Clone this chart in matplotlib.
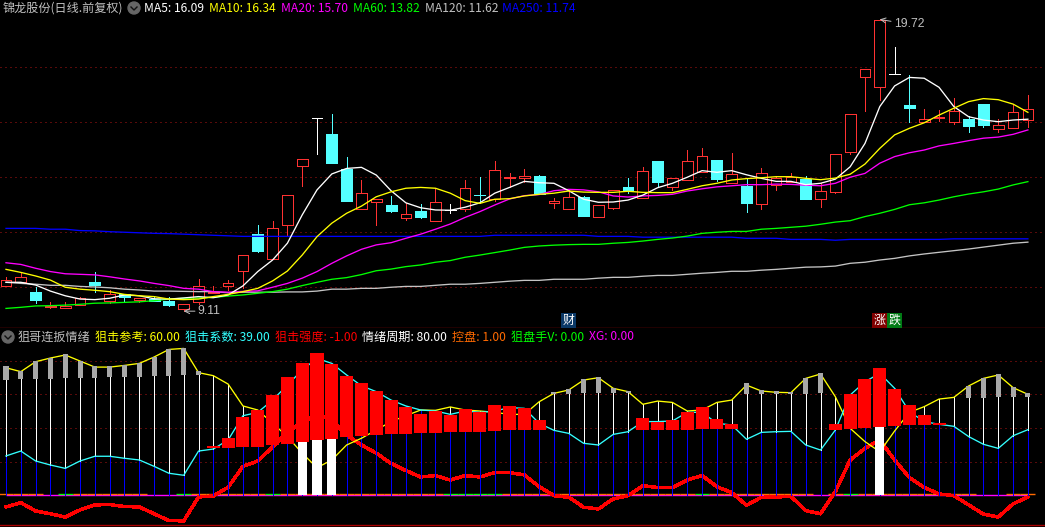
import numpy as np
import matplotlib.pyplot as plt
from matplotlib.lines import Line2D
from matplotlib.patches import Ellipse

plt.rcParams["font.family"] = ["Noto Sans CJK SC", "DejaVu Sans"]

# daily candles
opens = [10.04, 10.17, 9.81, 9.26, 9.24, 9.32, 10.17, 9.49, 9.72, 9.53, 9.54, 9.48, 9.20, 9.45, 9.78, 10.01, 10.58, 11.91,
         11.00, 12.23, 14.38, 16.12, 15.55, 14.28, 12.84, 13.09, 12.97, 12.51, 12.75, 12.40, 12.80, 12.84, 13.33, 13.20,
         13.95, 13.97, 14.03, 13.06, 12.84, 13.26, 12.55, 12.87, 13.63, 13.21, 14.57, 13.61, 13.87, 14.18, 14.61, 13.78,
         13.66, 13.00, 13.69, 13.82, 13.92, 13.20, 13.45, 14.91, 17.64, 17.27, 17.72, 16.61, 15.99, 16.13, 15.99, 16.10,
         16.64, 15.75, 15.78, 16.07]
closes = [10.25, 10.34, 9.52, 9.30, 9.30, 9.58, 10.06, 9.72, 9.64, 9.58, 9.47, 9.35, 9.36, 10.01, 9.81, 10.12, 11.14, 11.30,
          12.12, 13.32, 14.63, 16.12, 14.51, 13.12, 13.40, 13.18, 12.75, 12.63, 12.53, 13.07, 12.80, 13.58, 13.32, 14.23,
          13.99, 14.01, 13.37, 13.10, 13.25, 12.58, 12.96, 13.51, 13.52, 14.20, 13.82, 13.94, 14.56, 14.74, 13.92, 14.09,
          13.05, 14.12, 13.94, 14.00, 13.19, 13.47, 14.81, 16.27, 17.91, 19.69, 17.72, 16.51, 16.09, 16.16, 16.38, 15.84,
          15.88, 15.88, 16.34, 16.45]
highs = [10.36, 10.51, 9.99, 9.44, 9.44, 9.64, 10.53, 9.88, 9.72, 9.58, 9.66, 9.61, 9.36, 10.28, 10.01, 10.23, 11.14, 12.23,
         12.39, 13.32, 14.63, 16.12, 16.28, 14.72, 13.88, 13.18, 13.30, 13.03, 13.00, 13.59, 13.00, 13.88, 13.99, 14.57,
         14.12, 14.27, 14.06, 13.21, 13.54, 13.28, 12.96, 13.51, 13.95, 14.35, 14.57, 13.94, 14.97, 15.04, 14.61, 14.85,
         13.92, 14.32, 14.03, 14.12, 14.03, 13.76, 14.81, 16.27, 17.91, 19.72, 18.72, 17.70, 16.46, 16.43, 16.85, 16.21,
         16.64, 16.10, 16.61, 16.97]
lows = [10.04, 10.17, 9.41, 9.23, 9.24, 9.32, 9.81, 9.41, 9.43, 9.43, 9.47, 9.30, 9.11, 9.36, 9.77, 9.88, 9.96, 11.25,
        11.00, 11.84, 13.66, 14.84, 14.51, 13.12, 12.84, 12.24, 12.72, 12.43, 12.50, 12.40, 12.69, 12.75, 13.03, 13.11,
        13.64, 13.82, 13.37, 12.87, 12.84, 12.58, 12.55, 12.83, 13.42, 13.21, 13.66, 13.52, 13.87, 14.18, 13.85, 13.78,
        12.73, 12.83, 13.52, 13.82, 13.19, 12.91, 13.42, 14.83, 16.39, 16.79, 17.72, 15.99, 15.99, 16.03, 15.93, 15.63,
        15.81, 15.63, 15.78, 15.81]

# moving averages
ma5 = [10.16, 10.16, 10.06, 9.84, 9.67, 9.55, 9.53, 9.58, 9.70, 9.67, 9.56, 9.55, 9.59, 9.64, 9.60, 9.70, 10.03, 10.55,
       10.97, 11.58, 12.61, 13.52, 14.10, 14.30, 14.34, 14.06, 13.49, 13.05, 12.87, 12.79, 12.78, 12.89, 13.05, 13.40,
       13.61, 13.83, 13.78, 13.76, 13.49, 13.18, 13.07, 13.08, 13.15, 13.33, 13.60, 13.76, 13.98, 14.22, 14.16, 14.22,
       14.07, 13.94, 13.83, 13.83, 13.71, 13.76, 13.91, 14.36, 15.21, 16.55, 17.30, 17.61, 17.58, 17.25, 16.55, 16.18,
       16.06, 16.00, 16.06, 16.09]
ma10 = [10.63, 10.52, 10.39, 10.24, 9.98, 9.91, 9.87, 9.82, 9.72, 9.67, 9.64, 9.55, 9.53, 9.55, 9.64, 9.72, 9.82, 9.94,
        10.21, 10.57, 11.15, 11.82, 12.31, 12.67, 12.93, 13.27, 13.45, 13.58, 13.61, 13.58, 13.40, 13.13, 13.03, 13.18,
        13.20, 13.30, 13.36, 13.40, 13.48, 13.44, 13.43, 13.43, 13.47, 13.43, 13.42, 13.42, 13.54, 13.67, 13.76, 13.88,
        13.93, 13.96, 14.00, 14.00, 13.94, 13.89, 13.95, 14.09, 14.46, 15.03, 15.52, 15.76, 15.96, 16.24, 16.49, 16.73,
        16.84, 16.80, 16.64, 16.34]
ma20 = [10.87, 10.81, 10.67, 10.55, 10.47, 10.45, 10.43, 10.36, 10.28, 10.21, 10.12, 10.04, 9.94, 9.91, 9.82, 9.80, 9.83, 9.85,
        9.98, 10.12, 10.31, 10.55, 10.85, 11.12, 11.36, 11.52, 11.60, 11.76, 11.91, 12.09, 12.28, 12.52, 12.73, 12.97,
        13.19, 13.31, 13.35, 13.49, 13.54, 13.52, 13.45, 13.30, 13.26, 13.30, 13.32, 13.36, 13.48, 13.56, 13.63, 13.67,
        13.71, 13.71, 13.73, 13.72, 13.69, 13.67, 13.76, 13.98, 14.12, 14.49, 14.73, 14.87, 14.97, 15.12, 15.21, 15.31,
        15.40, 15.44, 15.54, 15.70]
ma60 = [9.21, 9.25, 9.30, 9.31, 9.33, 9.36, 9.40, 9.41, 9.43, 9.45, 9.49, 9.55, 9.58, 9.59, 9.61, 9.66, 9.70, 9.76,
        9.82, 9.91, 10.04, 10.16, 10.27, 10.33, 10.44, 10.58, 10.64, 10.73, 10.79, 10.89, 10.95, 11.07, 11.15, 11.24,
        11.33, 11.43, 11.48, 11.51, 11.53, 11.54, 11.54, 11.58, 11.61, 11.66, 11.72, 11.77, 11.84, 11.94, 11.98, 12.01,
        12.01, 12.09, 12.12, 12.16, 12.20, 12.27, 12.35, 12.40, 12.55, 12.67, 12.81, 12.98, 13.05, 13.15, 13.27, 13.37,
        13.45, 13.55, 13.70, 13.82]
ma120 = [10.16, 10.12, 10.09, 10.05, 10.05, 10.01, 9.99, 9.96, 9.91, 9.88, 9.84, 9.84, 9.83, 9.82, 9.82, 9.78, 9.80, 9.80,
         9.80, 9.81, 9.81, 9.84, 9.91, 9.91, 9.94, 9.94, 9.98, 10.01, 10.01, 10.05, 10.09, 10.09, 10.12, 10.16, 10.20,
         10.23, 10.23, 10.27, 10.27, 10.27, 10.31, 10.34, 10.34, 10.38, 10.41, 10.41, 10.45, 10.49, 10.52, 10.56, 10.56,
         10.60, 10.63, 10.67, 10.71, 10.72, 10.75, 10.85, 10.89, 10.97, 11.03, 11.12, 11.19, 11.25, 11.31, 11.37, 11.44,
         11.51, 11.58, 11.62]
ma250 = [12.12, 12.12, 12.12, 12.09, 12.09, 12.04, 12.03, 12.00, 11.98, 11.96, 11.94, 11.93, 11.91, 11.89, 11.87, 11.85,
         11.83, 11.83, 11.83, 11.83, 11.83, 11.83, 11.83, 11.83, 11.83, 11.83, 11.83, 11.83, 11.83, 11.83, 11.83, 11.83,
         11.83, 11.87, 11.87, 11.87, 11.87, 11.87, 11.87, 11.87, 11.83, 11.83, 11.83, 11.80, 11.80, 11.80, 11.80, 11.80,
         11.80, 11.80, 11.76, 11.76, 11.76, 11.72, 11.72, 11.72, 11.69, 11.72, 11.72, 11.72, 11.72, 11.72, 11.72, 11.72,
         11.74, 11.74, 11.74, 11.74, 11.74, 11.74]

# indicator panel
ref_line = [75.8, 73.5, 79.4, 81.6, 83.4, 79.8, 76.2, 76.2, 77.2, 78.4, 82.2, 86.7, 87.3, 72.9, 71.1, 66.1, 53.1, 50.7,
            42.8, 34.9, 25.0, 16.4, 21.0, 29.9, 33.9, 38.8, 43.8, 47.3, 50.7, 50.5, 52.5, 50.7, 50.1, 49.3, 48.1, 48.1,
            55.6, 60.6, 62.6, 68.5, 69.9, 63.6, 61.6, 54.1, 56.0, 55.2, 50.1, 50.7, 55.2, 56.6, 65.5, 62.0, 61.2, 61.0,
            69.5, 72.1, 58.6, 39.8, 31.9, 25.9, 38.2, 49.3, 52.7, 57.2, 58.2, 65.0, 69.5, 71.5, 64.0, 60.0]
coef_line = [23.4, 26.3, 20.4, 18.0, 16.0, 20.4, 23.2, 23.2, 22.0, 21.0, 17.2, 13.1, 11.9, 26.3, 27.5, 32.9, 47.3, 49.3,
             56.6, 65.5, 74.5, 81.4, 78.4, 71.5, 65.1, 61.6, 56.6, 53.1, 50.7, 50.1, 48.1, 50.1, 49.3, 50.1, 52.1, 51.7,
             42.8, 38.6, 36.8, 30.9, 29.9, 36.2, 37.8, 43.8, 43.8, 44.2, 49.3, 49.3, 42.8, 41.8, 33.3, 37.4, 37.8, 38.0,
             29.9, 26.9, 38.8, 59.6, 67.5, 72.5, 63.6, 49.7, 43.8, 42.2, 41.0, 34.9, 30.3, 27.9, 35.4, 39.0]
strength = [-6.9, -4.4, -9.3, -11.0, -12.9, -8.7, -5.7, -5.5, -6.7, -6.9, -11.0, -15.0, -15.2, -1.0, -0.4, 4.8, 17.2, 20.4,
            28.7, 37.8, 43.2, 48.3, 44.8, 35.8, 29.9, 25.0, 19.0, 14.7, 10.9, 11.7, 9.1, 11.7, 10.9, 13.5, 13.5, 12.1,
            5.1, -0.2, -1.2, -7.1, -8.1, -2.2, -0.2, 5.7, 4.6, 4.6, 9.1, 11.7, 5.1, 1.6, -5.9, -1.2, -1.0, -0.6,
            -9.1, -11.0, 2.2, 21.0, 27.9, 32.9, 21.0, 10.5, 4.6, 0.8, -0.2, -5.7, -11.2, -12.9, -5.1, -1.0]

gray_idx = [0, 1, 2, 3, 4, 5, 6, 7, 8, 9, 10, 11, 12, 13, 37, 38, 39, 40, 41, 42, 50, 51, 52, 53, 54, 55, 65, 66, 67, 68, 69]
gray_top = [76.8, 73.9, 79.8, 81.6, 84.0, 79.8, 76.8, 76.8, 77.4, 78.6, 82.2, 86.9, 87.5, 73.9, 61.4, 63.2, 69.1, 70.3, 63.8,
            62.0, 66.7, 62.6, 62.0, 61.4, 69.7, 72.7, 65.0, 69.7, 72.1, 64.4, 60.8]
gray_bot = [68.5, 69.1, 69.1, 69.1, 69.5, 69.9, 69.7, 70.3, 70.3, 70.3, 70.9, 70.9, 71.5, 71.5, 60.2, 60.2, 60.8, 60.8, 60.8,
            60.8, 60.2, 60.2, 60.2, 60.2, 60.2, 60.8, 57.8, 57.8, 58.4, 58.4, 58.4]

red_idx = [14, 15, 16, 17, 18, 19, 20, 21, 22, 23, 24, 25, 26, 27, 28, 29, 30, 31, 32, 33, 34, 35, 36,
           43, 44, 45, 46, 47, 48, 49, 56, 57, 58, 59, 60, 61, 62, 63]
red_top = [29.3, 34.1, 46.5, 50.7, 59.6, 70.3, 78.6, 84.6, 78.0, 70.9, 66.7, 62.0, 56.6, 52.5, 48.3, 50.1, 47.7, 51.3, 49.5,
           53.7, 53.1, 51.9, 44.8, 45.9, 43.6, 44.8, 49.5, 52.5, 45.3, 42.4, 42.4, 60.2, 69.1, 75.6, 63.2, 53.7, 47.7, 43.0]
red_bot = [28.1, 28.1, 28.7, 28.7, 29.9, 30.5, 31.7, 32.9, 33.5, 34.7, 35.2, 35.8, 36.4, 36.4, 37.0, 37.0, 37.6, 37.6, 37.6,
           38.2, 38.8, 38.8, 38.8, 38.8, 38.8, 38.8, 38.8, 39.4, 39.4, 39.4, 38.8, 39.4, 40.0, 40.6, 41.2, 41.8, 41.8, 41.8]

white_idx = [20, 21, 22, 59]
white_top = [31.7, 32.9, 33.5, 40.6]

orange_idx = [0, 1, 2, 5, 6, 7, 8, 9, 13, 14, 15, 16, 17, 19, 20, 21, 22, 23, 24, 25, 26, 27, 28, 29, 34, 35, 36, 37, 38, 39,
              40, 41, 42, 43, 44, 45, 46, 48, 49, 50, 51, 52, 53, 54, 56, 58, 59, 60, 61, 62, 63, 64, 65, 68, 69]
green_idx = [4, 12, 18, 30, 31, 32, 33, 47, 57]

event_idx = [38, 59, 60]
event_txt = ["财", "涨", "跌"]
event_bg = ["#0a3866", "#800000", "#007a14"]

W, H = 1045, 527
RED = "#ff3232"
CYAN = "#54ffff"
GRID = "#b01414"
EDGE = "#a80000"
THIN = 0.72
MA_LW = 0.95

x = np.arange(len(closes))
xlim = (-6 / 14.81, (W - 6) / 14.81)

fig = plt.figure(figsize=(W / 100, H / 100), dpi=100, facecolor="black")
ax = fig.add_axes([0, (H - 328) / H, 1, 328 / H], facecolor="black")
ax2 = fig.add_axes([0, (H - 524.5) / H, 1, 196.5 / H], facecolor="black")

for a in (ax, ax2):
    a.set_xlim(*xlim)
    a.set_xticks([])
    a.tick_params(left=False, labelleft=False)
    a.grid(True, axis="y", color=GRID, lw=THIN, ls=(0, (1, 4)))
    a.set_axisbelow(True)
    for s in ("left", "right", "top"):
        a.spines[s].set_visible(False)
    a.spines["bottom"].set_color(EDGE)
    a.spines["bottom"].set_linewidth(1.0)

# price panel
ax.set_ylim(8.498, 20.425)
ax.set_yticks([10, 12, 14, 16, 18])

o, c, h, l = map(np.array, (opens, closes, highs, lows))
col = np.where(c > o, RED, np.where(c < o, CYAN, "white"))
ax.vlines(x, l, h, colors=col, lw=THIN, antialiased=False, zorder=2)
for i in x:
    lo, hi = min(o[i], c[i]), max(o[i], c[i])
    if c[i] > o[i]:
        ax.bar(i, hi - lo, bottom=lo, width=0.72, facecolor="black", edgecolor=RED, lw=THIN, antialiased=False, zorder=3)
    elif c[i] < o[i]:
        ax.bar(i, hi - lo, bottom=lo, width=0.74, color=CYAN, edgecolor=CYAN, lw=0.4, antialiased=False, zorder=3)
    else:
        ax.hlines(c[i], i - 0.37, i + 0.37, color="white", lw=THIN, antialiased=False, zorder=3)

ax.plot(x, ma250, color="#0000ff", lw=MA_LW, zorder=4)
ax.plot(x, ma120, color="#c4c4c4", lw=MA_LW, zorder=4)
ax.plot(x, ma60, color="#00ff00", lw=MA_LW, zorder=4)
ax.plot(x, ma20, color="#ff00ff", lw=MA_LW, zorder=4)
ax.plot(x, ma5, color="white", lw=MA_LW, zorder=5)
ax.plot(x, ma10, color="#ffff00", lw=MA_LW, zorder=5)

# high and low markers
ih, il = int(np.argmax(h)), int(np.argmin(l))
ax.annotate(f"{h[ih]:.2f}", xy=(ih, h[ih]), xytext=(14, -5), textcoords="offset pixels", color="#c0c0c0",
            fontsize=8.8, family="Liberation Sans", va="center",
            arrowprops=dict(arrowstyle="->", color="#c0c0c0", lw=0.7, shrinkA=0, shrinkB=0), zorder=6)
ax.annotate(f"{l[il]:.2f}", xy=(il, l[il]), xytext=(14, 0), textcoords="offset pixels", color="#c0c0c0",
            fontsize=8.8, family="Liberation Sans", va="center",
            arrowprops=dict(arrowstyle="->", color="#c0c0c0", lw=0.7, shrinkA=0, shrinkB=0), zorder=6)

for i, t, bg in zip(event_idx, event_txt, event_bg):
    ax.text(i, 8.77, t, color="white", fontsize=8.6, ha="center", va="center", zorder=6,
            bbox=dict(facecolor=bg, edgecolor="none", pad=1.0))

# indicator panel
ax2.set_ylim(-17.36, 99.44)
ax2.set_yticks([20, 40, 60, 80])

ref_a, coef_a = np.array(ref_line), np.array(coef_line)
ax2.hlines(0, x[0], x[-1], color="#ff00ff", lw=1.0, zorder=2)
ax2.hlines(np.full(len(green_idx), 0.6), np.array(green_idx) - 0.5, np.array(green_idx) + 0.5, color="#00ff00", lw=1.0, zorder=3)
ax2.hlines(np.full(len(orange_idx), 1.0), np.array(orange_idx) - 0.5, np.array(orange_idx) + 0.5, color="#ff6a00", lw=1.0, zorder=3)
ax2.plot(x, strength, color="#ff0000", lw=1.8, antialiased=False, zorder=3)
ax2.vlines(x, 0, coef_a, colors="#0000ff", lw=THIN, antialiased=False, zorder=4)
up = ref_a > coef_a
ax2.vlines(x[up], coef_a[up], ref_a[up], colors="white", lw=THIN, antialiased=False, zorder=4)
ax2.plot(x, ref_line, color="#ffff00", lw=MA_LW, zorder=5)
ax2.plot(x, coef_line, color="#33ffff", lw=MA_LW, zorder=5)
ax2.bar(gray_idx, np.array(gray_top) - np.array(gray_bot), bottom=gray_bot, width=0.34, color="#a8a8a8", zorder=6)
ax2.bar(white_idx, white_top, width=0.61, color="white", zorder=6)
ax2.bar(red_idx, np.array(red_top) - np.array(red_bot), bottom=red_bot, width=0.88, color="#ff0000", zorder=7)


def label(px, py, s, color):
    fig.text(px / W, 1 - py / H, s, color=color, fontsize=8.7, ha="left", va="center")


def button(px, py):
    fig.add_artist(Ellipse((px / W, 1 - py / H), 12 / W, 12 / H, color="#666666", transform=fig.transFigure))
    fig.add_artist(Line2D(np.array([px - 3, px, px + 3]) / W, 1 - np.array([py - 1, py + 2, py - 1]) / H,
                          color="#111111", lw=1.0, transform=fig.transFigure))


label(3, 8, "锦龙股份(日线.前复权)", "#c0c0c0")
button(134, 8)
label(144, 8, "MA5: 16.09", "white")
label(209, 8, "MA10: 16.34", "#ffff00")
label(281, 8, "MA20: 15.70", "#ff00ff")
label(353, 8, "MA60: 13.82", "#00ff00")
label(425, 8, "MA120: 11.62", "#c0c0c0")
label(502, 8, "MA250: 11.74", "#0000ff")

button(8, 337)
label(18, 337, "狙哥连扳情绪", "#c0c0c0")
label(95, 337, "狙击参考: 60.00", "#ffff00")
label(185, 337, "狙击系数: 39.00", "#33ffff")
label(275, 337, "狙击强度: -1.00", "#ff0000")
label(362, 337, "情绪周期: 80.00", "white")
label(452, 337, "控盘: 1.00", "#ff6a00")
label(511, 337, "狙盘手V: 0.00", "#00ff00")
label(589, 337, "XG: 0.00", "#ff00ff")

fig.savefig("out.png", dpi=100, facecolor="black")
